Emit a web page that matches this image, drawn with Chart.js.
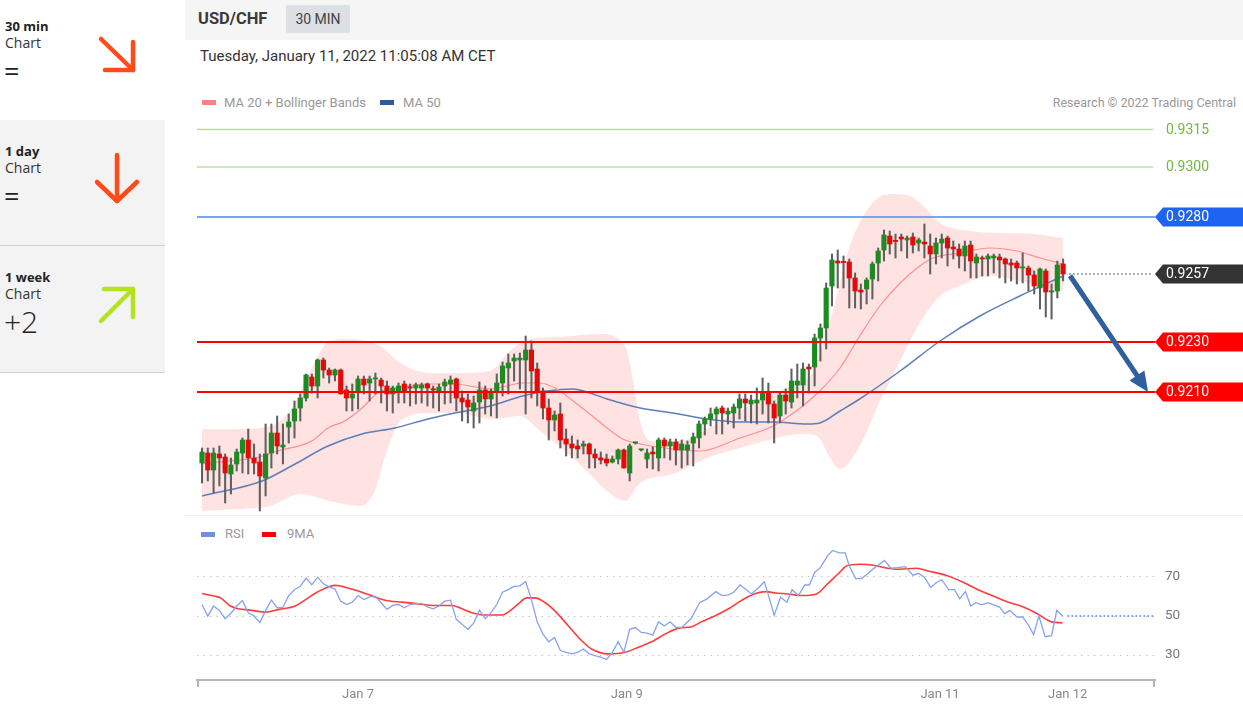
<!DOCTYPE html>
<html>
<head>
<meta charset="utf-8">
<script src="https://cdn.jsdelivr.net/npm/chart.js@4.4.1/dist/chart.umd.min.js"></script>
<style>
  html, body { margin: 0; padding: 0; background: #fff; }
  body { width: 1243px; height: 710px; position: relative; overflow: hidden; font-family: Roboto, Arial, sans-serif; color: #333; }
  .abs { position: absolute; white-space: nowrap; }
  .box { position: absolute; left: 0; width: 165px; }
  .tf { font-family: "Open Sans", Lato, sans-serif; font-weight: 700; font-size: 13px; line-height: 16px; color: #222; left: 5px; }
  .lb { font-family: "Open Sans", Lato, sans-serif; font-size: 14px; line-height: 16px; color: #333; left: 5px; }
  .sg { font-family: "Open Sans", Lato, sans-serif; font-size: 27px; line-height: 26px; color: #222; left: 4px; }
  .leg { font-size: 13px; line-height: 16px; color: #999; }
  .sw { position: absolute; height: 5px; width: 14px; }
  canvas { position: absolute; }
</style>
</head>
<body>
<!-- panneau gauche -->
<div class="box" style="top:0;height:120px;background:#fff"></div>
<div class="box" style="top:120px;height:125px;background:#f3f3f3;border-bottom:1px solid #d2d2d2"></div>
<div class="box" style="top:246px;height:126px;background:#f3f3f3;border-bottom:1px solid #d2d2d2"></div>
<div class="abs tf" style="top:18px">30 min</div>
<div class="abs lb" style="top:35px">Chart</div>
<div class="abs sg" style="top:58px">=</div>
<div class="abs tf" style="top:143px">1 day</div>
<div class="abs lb" style="top:160px">Chart</div>
<div class="abs sg" style="top:183px">=</div>
<div class="abs tf" style="top:269px">1 week</div>
<div class="abs lb" style="top:286px">Chart</div>
<div class="abs sg" style="top:306px;font-size:30px;line-height:32px;font-weight:300">+2</div>
<svg class="abs" style="left:0;top:0" width="165" height="372">
  <g fill="none" stroke-linecap="round" stroke-linejoin="round">
    <g stroke="#ff4a1a" stroke-width="4.5">
      <line x1="101" y1="39" x2="133" y2="70"/>
      <polyline points="105,70 133,70 133,42"/>
      <line x1="117" y1="155" x2="117" y2="201"/>
      <polyline points="97,182 117,201 137,182"/>
    </g>
    <g stroke="#b4e21e" stroke-width="4.5">
      <line x1="101" y1="321" x2="133" y2="289"/>
      <polyline points="104,289 133,289 133,317"/>
    </g>
  </g>
</svg>

<!-- en-tête -->
<div class="abs" style="left:185px;top:0;width:1058px;height:40px;background:#f5f5f5"></div>
<div class="abs" style="left:198px;top:8px;font-size:16.5px;font-weight:700;line-height:22px;color:#3a3a3a">USD/CHF</div>
<div class="abs" style="left:286px;top:5px;width:64px;height:28px;background:#dcdfe3;border-radius:2px;text-align:center;font-size:14px;line-height:28px;color:#444">30 MIN</div>
<div class="abs" style="left:200px;top:46px;font-size:15px;line-height:20px;color:#333">Tuesday, January 11, 2022 11:05:08 AM CET</div>

<div class="sw" style="left:202px;top:100px;background:#ff8080"></div>
<div class="abs leg" style="left:224px;top:95px">MA 20 + Bollinger Bands</div>
<div class="sw" style="left:380px;top:100px;background:#2f5b9a"></div>
<div class="abs leg" style="left:403px;top:95px">MA 50</div>
<div class="abs leg" style="right:7px;top:95px;font-size:12.5px">Research © 2022 Trading Central</div>

<div class="abs" style="left:185px;top:515px;width:1058px;height:1px;background:#eceef0"></div>
<div class="sw" style="left:201px;top:532px;background:#7090e0"></div>
<div class="abs leg" style="left:225px;top:526px">RSI</div>
<div class="sw" style="left:262px;top:532px;background:#ff0000"></div>
<div class="abs leg" style="left:287px;top:526px">9MA</div>

<canvas id="price" width="1058" height="400" style="left:185px;top:115px"></canvas>
<canvas id="rsi" width="1058" height="195" style="left:185px;top:515px"></canvas>

<script>
/* ---------- données : bougies 30 min USD/CHF ---------- */
const open = [
  0.91816, 0.91856, 0.91788, 0.91852, 0.91840, 0.91772, 0.91812, 0.91856, 0.91908, 0.91836,
  0.91820, 0.91756, 0.91856, 0.91936, 0.91880, 0.91960, 0.91984, 0.92036, 0.92076, 0.92160,
  0.92124, 0.92228, 0.92188, 0.92168, 0.92188, 0.92108, 0.92076, 0.92104, 0.92152, 0.92136,
  0.92152, 0.92148, 0.92124, 0.92092, 0.92104, 0.92132, 0.92120, 0.92116, 0.92116, 0.92132,
  0.92112, 0.92104, 0.92124, 0.92132, 0.92152, 0.92076, 0.92068, 0.92024, 0.92060, 0.92108,
  0.92072, 0.92104, 0.92136, 0.92196, 0.92224, 0.92228, 0.92228, 0.92268, 0.92192, 0.92104,
  0.92036, 0.91988, 0.92012, 0.91912, 0.91892, 0.91884, 0.91884, 0.91892, 0.91852, 0.91836,
  0.91832, 0.91820, 0.91832, 0.91868, 0.91776, 0.91896, 0.91868, 0.91832, 0.91860, 0.91836,
  0.91908, 0.91884, 0.91900, 0.91868, 0.91868, 0.91896, 0.91916, 0.91972, 0.91992, 0.92012,
  0.92036, 0.92012, 0.92016, 0.92036, 0.92072, 0.92052, 0.92056, 0.92068, 0.92100, 0.92052,
  0.92004, 0.92088, 0.92060, 0.92128, 0.92128, 0.92200, 0.92200, 0.92316, 0.92356, 0.92524,
  0.92624, 0.92620, 0.92620, 0.92556, 0.92508, 0.92512, 0.92552, 0.92616, 0.92668, 0.92724,
  0.92704, 0.92720, 0.92708, 0.92720, 0.92696, 0.92700, 0.92684, 0.92652, 0.92696, 0.92716,
  0.92680, 0.92672, 0.92644, 0.92688, 0.92616, 0.92636, 0.92632, 0.92636, 0.92640, 0.92632,
  0.92616, 0.92616, 0.92596, 0.92596, 0.92568, 0.92516, 0.92584, 0.92500, 0.92504, 0.92612
];
const high = [
  0.91876, 0.91876, 0.91876, 0.91884, 0.91852, 0.91836, 0.91872, 0.91916, 0.91952, 0.91892,
  0.91852, 0.91972, 0.91972, 0.92004, 0.91972, 0.92012, 0.92064, 0.92092, 0.92172, 0.92172,
  0.92232, 0.92236, 0.92196, 0.92192, 0.92192, 0.92124, 0.92132, 0.92164, 0.92164, 0.92164,
  0.92176, 0.92156, 0.92144, 0.92124, 0.92136, 0.92144, 0.92132, 0.92136, 0.92136, 0.92136,
  0.92124, 0.92132, 0.92152, 0.92164, 0.92156, 0.92104, 0.92092, 0.92084, 0.92140, 0.92124,
  0.92112, 0.92172, 0.92220, 0.92252, 0.92252, 0.92256, 0.92324, 0.92304, 0.92216, 0.92116,
  0.92072, 0.92024, 0.92056, 0.91952, 0.91924, 0.91908, 0.91904, 0.91896, 0.91872, 0.91860,
  0.91852, 0.91844, 0.91872, 0.91872, 0.91892, 0.91900, 0.91872, 0.91872, 0.91880, 0.91916,
  0.91916, 0.91912, 0.91912, 0.91908, 0.91904, 0.91936, 0.91984, 0.92000, 0.92036, 0.92040,
  0.92044, 0.92036, 0.92052, 0.92092, 0.92092, 0.92088, 0.92116, 0.92156, 0.92136, 0.92064,
  0.92096, 0.92112, 0.92192, 0.92212, 0.92216, 0.92212, 0.92332, 0.92372, 0.92536, 0.92652,
  0.92668, 0.92644, 0.92632, 0.92576, 0.92532, 0.92556, 0.92620, 0.92676, 0.92748, 0.92744,
  0.92732, 0.92732, 0.92724, 0.92736, 0.92716, 0.92772, 0.92732, 0.92716, 0.92732, 0.92724,
  0.92704, 0.92692, 0.92704, 0.92704, 0.92652, 0.92644, 0.92652, 0.92652, 0.92652, 0.92636,
  0.92632, 0.92624, 0.92656, 0.92604, 0.92584, 0.92596, 0.92592, 0.92532, 0.92624, 0.92632
];
const low = [
  0.91736, 0.91744, 0.91696, 0.91724, 0.91656, 0.91692, 0.91784, 0.91776, 0.91772, 0.91772,
  0.91624, 0.91684, 0.91796, 0.91852, 0.91812, 0.91896, 0.91916, 0.91984, 0.92064, 0.92096,
  0.92076, 0.92156, 0.92136, 0.92144, 0.92092, 0.92024, 0.92024, 0.92032, 0.92092, 0.92064,
  0.92092, 0.92056, 0.92024, 0.92016, 0.92056, 0.92056, 0.92044, 0.92052, 0.92056, 0.92044,
  0.92036, 0.92024, 0.92052, 0.92056, 0.92024, 0.91984, 0.91976, 0.91956, 0.91976, 0.92012,
  0.92004, 0.91996, 0.92084, 0.92092, 0.92144, 0.92112, 0.92012, 0.92076, 0.92044, 0.91992,
  0.91908, 0.91944, 0.91876, 0.91844, 0.91836, 0.91836, 0.91852, 0.91796, 0.91796, 0.91812,
  0.91804, 0.91816, 0.91812, 0.91796, 0.91744, 0.91892, 0.91864, 0.91796, 0.91792, 0.91784,
  0.91836, 0.91828, 0.91808, 0.91796, 0.91808, 0.91804, 0.91876, 0.91928, 0.91964, 0.91932,
  0.91932, 0.91972, 0.91956, 0.91992, 0.91984, 0.91976, 0.91972, 0.92012, 0.91976, 0.91896,
  0.91976, 0.92012, 0.92036, 0.92076, 0.92044, 0.92096, 0.92124, 0.92224, 0.92272, 0.92444,
  0.92516, 0.92516, 0.92436, 0.92436, 0.92432, 0.92452, 0.92472, 0.92544, 0.92624, 0.92652,
  0.92636, 0.92664, 0.92636, 0.92656, 0.92664, 0.92636, 0.92572, 0.92612, 0.92636, 0.92604,
  0.92632, 0.92596, 0.92584, 0.92556, 0.92556, 0.92564, 0.92564, 0.92576, 0.92556, 0.92536,
  0.92544, 0.92532, 0.92536, 0.92504, 0.92492, 0.92432, 0.92400, 0.92392, 0.92476, 0.92544
];
const close = [
  0.91860, 0.91788, 0.91856, 0.91836, 0.91776, 0.91808, 0.91860, 0.91908, 0.91836, 0.91816,
  0.91764, 0.91852, 0.91936, 0.91884, 0.91888, 0.91980, 0.92032, 0.92076, 0.92168, 0.92124,
  0.92228, 0.92188, 0.92168, 0.92188, 0.92092, 0.92076, 0.92092, 0.92152, 0.92128, 0.92152,
  0.92156, 0.92124, 0.92092, 0.92116, 0.92124, 0.92104, 0.92116, 0.92128, 0.92128, 0.92116,
  0.92108, 0.92120, 0.92140, 0.92148, 0.92076, 0.92060, 0.92040, 0.92056, 0.92108, 0.92072,
  0.92104, 0.92136, 0.92204, 0.92216, 0.92236, 0.92236, 0.92268, 0.92184, 0.92104, 0.92036,
  0.91988, 0.92008, 0.91908, 0.91892, 0.91876, 0.91872, 0.91892, 0.91852, 0.91836, 0.91828,
  0.91816, 0.91832, 0.91868, 0.91796, 0.91884, 0.91896, 0.91868, 0.91856, 0.91852, 0.91908,
  0.91884, 0.91900, 0.91868, 0.91892, 0.91888, 0.91920, 0.91972, 0.91992, 0.92012, 0.92032,
  0.92016, 0.92024, 0.92040, 0.92072, 0.92056, 0.92068, 0.92068, 0.92100, 0.92052, 0.91996,
  0.92088, 0.92064, 0.92144, 0.92144, 0.92192, 0.92192, 0.92316, 0.92356, 0.92516, 0.92628,
  0.92616, 0.92618, 0.92556, 0.92504, 0.92500, 0.92548, 0.92612, 0.92664, 0.92728, 0.92692,
  0.92702, 0.92712, 0.92716, 0.92688, 0.92708, 0.92692, 0.92652, 0.92696, 0.92712, 0.92676,
  0.92672, 0.92644, 0.92684, 0.92624, 0.92640, 0.92632, 0.92644, 0.92644, 0.92628, 0.92612,
  0.92608, 0.92596, 0.92600, 0.92568, 0.92524, 0.92592, 0.92500, 0.92504, 0.92608, 0.92572
];

/* moyennes et bandes: [indice bougie, prix] */
const ma20 = [
  [0, 0.91812], [4.5, 0.91824], [9.2, 0.91836], [13.1, 0.91864], [19, 0.91904], [21.8, 0.91956],
  [24.7, 0.91984], [27.7, 0.92036], [30.4, 0.92096], [33.4, 0.92116], [39.1, 0.92132], [43.8, 0.92132],
  [49.8, 0.92112], [55.5, 0.92136], [58.5, 0.92136], [61.4, 0.92112], [64.2, 0.92064], [67.1, 0.92012],
  [70.1, 0.91956], [72.8, 0.91912], [75.8, 0.91892], [81.5, 0.91872], [86.2, 0.91864], [93.1, 0.91916],
  [98.8, 0.91964], [103.5, 0.92036], [106.9, 0.92104], [110.4, 0.92196], [113.8, 0.92324], [117.3, 0.92444],
  [120.8, 0.92536], [124.2, 0.92604], [126.5, 0.92636], [131.1, 0.92656], [136.3, 0.92676], [141, 0.92664],
  [145, 0.92636], [149, 0.92612]
];
const bbUpper = [
  [0, 0.91952], [6.6, 0.91952], [11.8, 0.91964], [15.2, 0.92024], [18.7, 0.92184], [22.1, 0.92304],
  [25.6, 0.92312], [30.8, 0.92284], [34.3, 0.92216], [39.4, 0.92176], [44.6, 0.92176], [49.8, 0.92184],
  [53.3, 0.92264], [56.7, 0.92312], [61.9, 0.92320], [68.9, 0.92332], [73.2, 0.92284], [74.6, 0.92144],
  [75.8, 0.91984], [77.5, 0.91904], [82.7, 0.91904], [86.2, 0.91936], [91.3, 0.92004], [96.5, 0.92064],
  [101.7, 0.92124], [105.2, 0.92164], [108.7, 0.92384], [112.1, 0.92684], [115.6, 0.92844], [119, 0.92892],
  [122.5, 0.92884], [125.1, 0.92836], [127.7, 0.92776], [132.9, 0.92744], [138.1, 0.92736], [143.8, 0.92732],
  [149, 0.92716]
];
const bbLower = [
  [0, 0.91624], [6.6, 0.91632], [11.8, 0.91644], [17, 0.91692], [22.1, 0.91664], [27.3, 0.91644],
  [29.9, 0.91704], [31.7, 0.91844], [34.3, 0.91984], [39.4, 0.92016], [44.6, 0.92016], [49.8, 0.91992],
  [55, 0.92004], [58.5, 0.91944], [64.2, 0.91836], [67.1, 0.91772], [70.1, 0.91704], [73.2, 0.91664],
  [75.8, 0.91736], [81.5, 0.91772], [87.4, 0.91836], [93.1, 0.91876], [98.8, 0.91912], [103.5, 0.91932],
  [106.4, 0.91924], [108.7, 0.91836], [110.4, 0.91792], [113.8, 0.91884], [117.3, 0.92064], [120.8, 0.92224],
  [124.2, 0.92376], [127.7, 0.92484], [131.1, 0.92524], [136.3, 0.92564], [141.5, 0.92544], [149, 0.92504]
];
const ma50 = [
  [0, 0.91684], [10.4, 0.91744], [16.1, 0.91812], [21.8, 0.91884], [27.7, 0.91932], [33.4, 0.91956],
  [39.1, 0.91992], [43.8, 0.92016], [49.8, 0.92044], [55.5, 0.92084], [59.7, 0.92104], [64.2, 0.92112],
  [67.1, 0.92096], [70.1, 0.92072], [75.8, 0.92036], [81.5, 0.92016], [87.4, 0.91992], [93.1, 0.91980],
  [98.8, 0.91980], [104.7, 0.91972], [106.9, 0.91976], [110.4, 0.92024], [113.8, 0.92072], [120.8, 0.92184],
  [127.7, 0.92304], [134.6, 0.92404], [141.5, 0.92484], [149, 0.92564]
];

/* niveaux et scénario */
const levelValues = [0.9315, 0.9300, 0.9280, 0.9230, 0.9210];
const forecastFrom = [150.2, 0.92565];
const forecastTo = [163.7, 0.92100];

/* RSI et sa moyenne 9 : [indice bougie, valeur] */
const rsi = [
  [0, 55.9], [1, 50.0], [2, 55.1], [3, 52.9], [4, 48.6], [5, 51.4], [6, 55.1], [7, 57.9], [8, 51.7], [9, 50.0],
  [10, 46.6], [11, 52.9], [12, 58.1], [13, 54.2], [14, 54.6], [15, 60.5], [16, 63.5], [17, 65.2], [18, 69.4], [19, 66.0],
  [20, 69.9], [21, 66.5], [22, 64.9], [23, 63.8], [24, 57.6], [25, 55.9], [26, 57.1], [27, 60.5], [28, 58.4], [29, 59.8],
  [30, 60.1], [31, 56.8], [32, 53.4], [33, 55.4], [34, 55.9], [35, 54.2], [36, 55.9], [37, 56.4], [38, 56.4], [39, 54.7],
  [40, 53.7], [41, 55.1], [42, 57.6], [43, 58.1], [44, 48.3], [45, 45.8], [46, 43.2], [47, 46.3], [48, 53.0], [49, 48.6],
  [50, 51.7], [51, 55.9], [52, 62.2], [53, 63.5], [54, 65.2], [55, 65.5], [56, 67.7], [57, 58.4], [58, 47.0], [59, 40.7],
  [60, 36.8], [61, 39.0], [62, 32.3], [63, 31.4], [64, 30.6], [65, 31.4], [66, 33.1], [67, 30.6], [68, 29.7], [69, 28.9],
  [70, 27.7], [71, 31.4], [72, 36.8], [73, 31.4], [74, 43.2], [75, 44.1], [76, 41.6], [77, 41.2], [78, 40.2], [79, 47.0],
  [80, 44.9], [81, 47.0], [82, 44.1], [83, 44.1], [84.6, 48.6], [86.1, 56.8], [87.4, 58.8], [88.9, 62.5], [90, 60.5],
  [91.1, 60.8], [92, 62.2], [93.1, 65.9], [94.2, 63.5], [95.1, 61.3], [96.2, 64.2], [97.3, 67.6], [98.2, 58.8], [99, 50.3],
  [100.1, 59.6], [101.2, 57.1], [102.1, 63.5], [103.2, 60.5], [104.3, 65.9], [105.1, 65.9], [106, 72.3], [107, 74.8],
  [108.2, 80.7], [109.1, 83.6], [110.3, 82.4], [111.3, 82.4], [112, 75.7], [113.1, 69.2], [114.1, 69.2], [115.1, 71.4],
  [116.2, 74.3], [117.2, 76.5], [118.1, 78.5], [119.2, 74.5], [120.3, 74.8], [121.7, 75.3], [123, 70.9], [124, 71.9],
  [125, 69.8], [126.1, 64.7], [127.1, 67.2], [128, 68.6], [129.2, 63.5], [130.2, 63.5], [131.1, 58.8], [132.1, 62.5],
  [133, 55.1], [133.9, 56.8], [134.9, 55.7], [136, 56.8], [137, 55.7], [138, 54.6], [138.9, 51.2], [139.8, 52.9],
  [141, 49.5], [142, 49.5], [143, 45.3], [143.9, 40.5], [144.8, 50.0], [145.9, 39.4], [147, 39.9], [147.9, 52.9], [148.9, 50.0]
];
const rsiMa9 = [
  [0, 61.5], [2.3, 60.1], [3.2, 59.3], [4.9, 55.1], [6.3, 53.7], [8.6, 52.9], [11, 52.0], [13.3, 53.4], [16.1, 55.1],
  [17.9, 58.4], [19.9, 62.2], [23.1, 65.7], [25.9, 63.8], [28.8, 61.0], [31.7, 58.1], [34.6, 57.1], [37.5, 56.2],
  [40.3, 55.4], [43.2, 55.4], [45, 53.7], [46.7, 51.7], [49, 50.5], [51.9, 50.5], [53.6, 53.4], [54.8, 56.4],
  [56.2, 59.3], [57.6, 59.3], [59.4, 56.8], [61.1, 52.5], [63.4, 44.9], [65.7, 37.3], [67.4, 33.1], [70.3, 30.6],
  [73.2, 31.4], [75.5, 34.0], [77.8, 36.8], [80.1, 40.7], [82.7, 43.9], [84.6, 44.4], [86.4, 47.0], [88.9, 50.3],
  [91.1, 53.7], [93.3, 57.9], [95.1, 60.8], [97.6, 62.5], [99.2, 61.8], [101.3, 61.3], [103.8, 60.5], [106.3, 61.3],
  [108.2, 66.4], [110, 71.4], [111.6, 75.7], [113.8, 76.5], [116.2, 76.0], [118.1, 74.8], [120.6, 74.0], [123.7, 74.5],
  [125.6, 73.1], [128.7, 70.9], [131.8, 67.2], [134.3, 63.5], [136.7, 60.5], [139.2, 57.4], [141.7, 55.1],
  [144.2, 51.7], [146.1, 48.3], [147, 47.0], [148.9, 46.5]
];
const rsiTicks = [30, 50, 70];
const dayTickPos = [27, 73.5, 127.7, 149.8];
const dayTickLabels = ["Jan 7", "Jan 9", "Jan 11", "Jan 12"];

/* ---------- styles ---------- */
const GREEN = "#1e8a22", RED = "#e50a0a";
const levelStyles = [
  { line: "#bcdca4", width: 1.5, text: "#74b83f" },
  { line: "#bcdca4", width: 1.5, text: "#74b83f" },
  { line: "#7ca2f3", width: 2, tag: "#1f63f2" },
  { line: "#ff0000", width: 2, tag: "#ff0000" },
  { line: "#ff0000", width: 2, tag: "#ff0000" },
];
const X_MIN = -0.87, X_MAX = 164.9;
const pts = (arr) => arr.map(([x, y]) => ({ x, y }));
const up = (i) => close[i] >= open[i];

Chart.defaults.font.family = "Roboto, Arial, sans-serif";

function tag(ctx, x0, xEnd, yc, color, text) {
  ctx.fillStyle = color;
  ctx.beginPath();
  ctx.moveTo(x0, yc);
  ctx.lineTo(x0 + 8, yc - 9.5);
  ctx.lineTo(xEnd, yc - 9.5);
  ctx.lineTo(xEnd, yc + 9.5);
  ctx.lineTo(x0 + 8, yc + 9.5);
  ctx.closePath();
  ctx.fill();
  ctx.fillStyle = "#fff";
  ctx.font = "14px Roboto";
  ctx.textBaseline = "middle";
  ctx.textAlign = "left";
  ctx.fillText(text, x0 + 11, yc + 0.5);
}

/* niveaux, dernier cours et flèche de scénario */
const priceDecor = {
  id: "priceDecor",
  afterDatasetsDraw(ch) {
    const { ctx, chartArea: a, scales: { x, y } } = ch;
    const W = ch.width;
    const last = close.length - 1;
    const ly = y.getPixelForValue(close[last]);
    ctx.save();
    ctx.strokeStyle = "#8d99aa"; ctx.lineWidth = 2; ctx.setLineDash([1.5, 2.5]);
    ctx.beginPath(); ctx.moveTo(x.getPixelForValue(last) + 6, ly); ctx.lineTo(a.right - 2, ly); ctx.stroke();
    ctx.setLineDash([]);
    levelValues.forEach((v, k) => {
      const s = levelStyles[k];
      const py = y.getPixelForValue(v);
      ctx.strokeStyle = s.line; ctx.lineWidth = s.width;
      ctx.beginPath(); ctx.moveTo(a.left, py); ctx.lineTo(s.tag ? a.right : a.right - 2, py); ctx.stroke();
      if (s.tag) tag(ctx, a.right, W, py, s.tag, v.toFixed(4));
      else {
        ctx.fillStyle = s.text; ctx.font = "14px Roboto"; ctx.textBaseline = "middle"; ctx.textAlign = "left";
        ctx.fillText(v.toFixed(4), a.right + 11, py + 0.5);
      }
    });
    tag(ctx, a.right, W, ly, "#333333", close[last].toFixed(4));
    // flèche
    const x0 = x.getPixelForValue(forecastFrom[0]), y0 = y.getPixelForValue(forecastFrom[1]);
    const x1 = x.getPixelForValue(forecastTo[0]), y1 = y.getPixelForValue(forecastTo[1]);
    const ang = Math.atan2(y1 - y0, x1 - x0), c = Math.cos(ang), s = Math.sin(ang);
    const hl = 20, hw = 9, bx = x1 - hl * c, by = y1 - hl * s;
    ctx.strokeStyle = "#2f5f9f"; ctx.fillStyle = "#2f5f9f"; ctx.lineWidth = 5;
    ctx.beginPath(); ctx.moveTo(x0, y0); ctx.lineTo(bx + c, by + s); ctx.stroke();
    ctx.beginPath(); ctx.moveTo(x1, y1); ctx.lineTo(bx + hw * s, by - hw * c); ctx.lineTo(bx - hw * s, by + hw * c); ctx.closePath(); ctx.fill();
    ctx.restore();
  },
};

const idx = close.map((_, i) => i);
new Chart(document.getElementById("price"), {
  type: "bar",
  data: {
    datasets: [
      { type: "bar", data: idx.map((i) => ({ x: i, y: [open[i], close[i]] })), backgroundColor: (c) => (up(c.dataIndex) ? GREEN : RED),
        barThickness: 4.5, minBarLength: 1.2, grouped: false, order: 0 },
      { type: "bar", data: idx.map((i) => ({ x: i, y: [low[i], high[i]] })), backgroundColor: "#606060",
        barThickness: 1.4, grouped: false, order: 1 },
      { type: "line", data: pts(ma20), borderColor: "#ff8f8f", borderWidth: 1.2, pointRadius: 0, cubicInterpolationMode: "monotone", order: 2 },
      { type: "line", data: pts(ma50), borderColor: "#5b7fb8", borderWidth: 1.5, pointRadius: 0, cubicInterpolationMode: "monotone", order: 2 },
      { type: "line", data: pts(bbUpper), borderColor: "transparent", borderWidth: 0, pointRadius: 0, cubicInterpolationMode: "monotone",
        fill: "+1", backgroundColor: "rgba(255,150,150,0.28)", order: 3 },
      { type: "line", data: pts(bbLower), borderColor: "transparent", borderWidth: 0, pointRadius: 0, cubicInterpolationMode: "monotone", fill: false, order: 3 },
    ],
  },
  options: {
    responsive: false, animation: false, devicePixelRatio: 1, events: [],
    layout: { padding: { left: 12, right: 88, top: 6, bottom: 2 } },
    plugins: { legend: { display: false }, tooltip: { enabled: false } },
    scales: {
      x: { type: "linear", display: false, min: X_MIN, max: X_MAX, offset: false },
      y: { type: "linear", display: false, min: 0.91616, max: 0.93184 },
    },
  },
  plugins: [priceDecor],
});

/* ---------- RSI ---------- */
const rsiDecor = {
  id: "rsiDecor",
  afterDatasetsDraw(ch) {
    const { ctx, chartArea: a, scales: { x, y } } = ch;
    const lastR = rsi[rsi.length - 1];
    const py = y.getPixelForValue(lastR[1]);
    ctx.save();
    ctx.strokeStyle = "#7d9bf0"; ctx.lineWidth = 2; ctx.setLineDash([1.5, 2.5]);
    ctx.beginPath(); ctx.moveTo(x.getPixelForValue(lastR[0]) + 5, py); ctx.lineTo(a.right - 2, py); ctx.stroke();
    ctx.setLineDash([]);
    ctx.strokeStyle = "#b5b5b5"; ctx.lineWidth = 2;
    ctx.beginPath();
    ctx.moveTo(a.left + 1, a.bottom); ctx.lineTo(a.left + 1, a.bottom + 7);
    ctx.moveTo(a.right - 1, a.bottom); ctx.lineTo(a.right - 1, a.bottom + 7);
    ctx.stroke();
    ctx.restore();
  },
};

new Chart(document.getElementById("rsi"), {
  type: "line",
  data: {
    datasets: [
      { data: pts(rsi), borderColor: "#86a2ef", borderWidth: 1.3, pointRadius: 0, tension: 0 },
      { data: pts(rsiMa9), borderColor: "#ff3b3b", borderWidth: 1.6, pointRadius: 0, cubicInterpolationMode: "monotone" },
    ],
  },
  options: {
    responsive: false, animation: false, devicePixelRatio: 1, events: [],
    layout: { padding: { left: 12, right: 0, top: 30, bottom: 0 } },
    plugins: { legend: { display: false }, tooltip: { enabled: false } },
    scales: {
      x: {
        type: "linear", min: X_MIN, max: X_MAX, bounds: "data", offset: false,
        afterBuildTicks: (s) => { s.ticks = dayTickPos.map((v) => ({ value: v })); },
        afterFit: (s) => { s.height = 30; },
        grid: { display: false, drawTicks: false },
        border: { display: true, color: "#b5b5b5", width: 2 },
        ticks: { color: "#888", font: { size: 13 }, padding: 7, maxRotation: 0, autoSkip: false,
          callback: (v, i) => dayTickLabels[i] },
      },
      y: {
        position: "right", min: 17.2, max: 86.4, bounds: "data",
        afterBuildTicks: (s) => { s.ticks = rsiTicks.map((v) => ({ value: v })); },
        afterFit: (s) => { s.width = 88; },
        grid: { color: "#c4c4c4", lineWidth: 1, drawTicks: false },
        border: { display: false, dash: [1.5, 5] },
        ticks: { color: "#777", font: { size: 13.5 }, padding: 10 },
      },
    },
  },
  plugins: [rsiDecor],
});
</script>
</body>
</html>
